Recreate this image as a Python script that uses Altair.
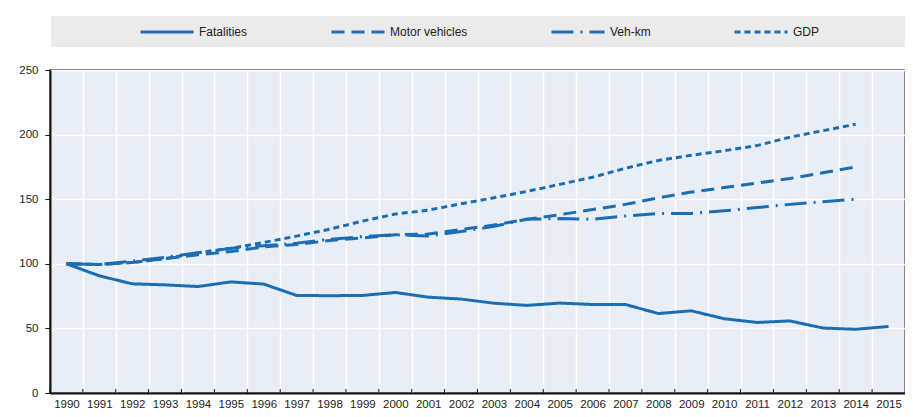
import altair as alt
import pandas as pd

years = list(range(1990, 2016))
series_names = ["Fatalities", "Motor vehicles", "Veh-km", "GDP"]

fatalities = [100, 90.7, 84.5, 83.7, 82.4, 86.0, 84.3, 75.5, 75.3, 75.5, 77.8, 74.2, 72.7,
              69.5, 67.8, 69.6, 68.5, 68.5, 61.5, 63.6, 57.5, 54.6, 55.8, 50.3, 49.3, 51.5]
motor_vehicles = [100, 99.5, 101, 104, 107, 109.5, 113, 115, 118, 120, 122.5, 123, 126.5,
                  130, 134.5, 138, 142, 146, 151, 155.5, 159, 162.5, 166, 170.5, 175]
veh_km = [100, 99.5, 102, 105, 108.5, 112, 114, 116, 119, 121, 122.5, 121.5, 125,
          129, 134.5, 135, 134.5, 137, 139, 139, 141, 143.5, 146, 148, 150]
gdp = [100, 99.5, 101, 104, 108.5, 112, 116.5, 121.4, 126.8, 133, 138.5, 141.5, 146.5,
       151.1, 156, 161.5, 167, 174, 180, 184, 187.5, 191.5, 198, 203, 208]

y_ticks = [0, 50, 100, 150, 200, 250]

BLUE = "#1b6eb3"

rows = []
for name, vals in zip(series_names, [fatalities, motor_vehicles, veh_km, gdp]):
    for yr, v in zip(years, vals):
        rows.append({"year": str(yr), "series": name, "value": v})
df = pd.DataFrame(rows)
ydf = pd.DataFrame({"year": [str(y) for y in years]})

W, H = 855, 323

x_scale = alt.Scale(type="band", paddingInner=0, paddingOuter=0, domain=[str(y) for y in years])

legend_box = alt.Chart(pd.DataFrame({"k": [0]})).mark_rect(color="#ebebeb").encode(
    x=alt.value(1), x2=alt.value(858), y=alt.value(-54), y2=alt.value(-23)
)

lines = alt.Chart(df).mark_line(color=BLUE, strokeWidth=3).encode(
    x=alt.X("year:O", scale=x_scale, bandPosition=0.5, title=None,
            axis=alt.Axis(labelAngle=0, ticks=False, tickBand="extent", grid=True,
                          gridColor="white", gridWidth=1.5, domainColor="#111",
                          domainWidth=2, labelPadding=5, labelFontSize=11.5,
                          labelColor="#222")),
    y=alt.Y("value:Q", scale=alt.Scale(domain=[0, 250], nice=False), title=None,
            axis=alt.Axis(values=y_ticks, grid=True, gridColor="white", gridWidth=1.5,
                          domainColor="#111", domainWidth=2, tickSize=5,
                          tickColor="#111", labelPadding=7, labelFontSize=11.5,
                          labelColor="#222")),
    strokeDash=alt.StrokeDash(
        "series:N",
        scale=alt.Scale(domain=series_names,
                        range=[[1, 0], [13, 7], [22, 7, 2, 7], [6, 4]]),
        sort=series_names,
        legend=alt.Legend(title=None, orient="none", legendX=89, legendY=-66,
                          direction="horizontal", columns=4, columnPadding=77,
                          symbolType="stroke", symbolSize=2809, symbolStrokeWidth=3,
                          symbolStrokeColor=BLUE, labelFontSize=12, labelOffset=4,
                          labelColor="#222", padding=0),
    ),
    order=alt.Order("year:O"),
)

ticks = alt.Chart(ydf).mark_rule(color="#111", strokeWidth=1).encode(
    x=alt.X("year:O", scale=x_scale, bandPosition=0),
    y=alt.value(H - 4), y2=alt.value(H),
)

chart = alt.layer(legend_box, lines, ticks).properties(
    width=W, height=H,
    padding={"left": 42, "top": 62, "right": 0, "bottom": 20},
    autosize=alt.AutoSizeParams(type="none"),
).configure(
    font="Liberation Sans",
).configure_view(
    fill="#e9edf5", stroke="#2b2b2b", strokeWidth=1.5,
)

chart.save("out.html", embed_options={"renderer": "svg", "actions": False})
